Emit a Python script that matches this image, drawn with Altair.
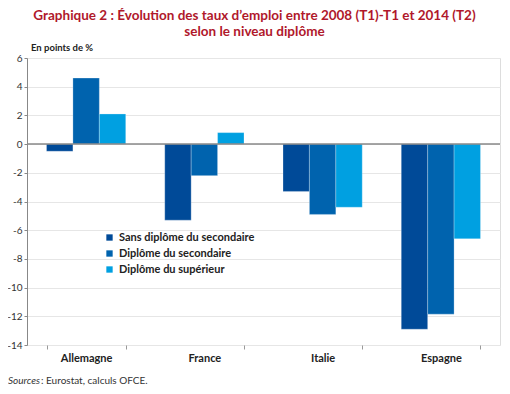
import altair as alt
import pandas as pd

pays = ["Allemagne", "France", "Italie", "Espagne"]
niveaux = ["Sans diplôme du secondaire", "Diplôme du secondaire", "Diplôme du supérieur"]
sans_diplome = [-0.5, -5.3, -3.3, -12.9]
diplome_secondaire = [4.6, -2.2, -4.9, -11.85]
diplome_superieur = [2.1, 0.8, -4.4, -6.6]
couleurs = ["#004a98", "#0063ae", "#00a0e1"]
y_domaine = [-14, 6]

titre = ["Graphique 2 : Évolution des taux d’emploi entre 2008 (T1)-T1 et 2014 (T2)",
         "selon le niveau diplôme"]
unite = "En points de %"
source_it = "Sources"
source_txt = " : Eurostat, calculs OFCE."

rows = []
for i, p in enumerate(pays):
    for n, vals in zip(niveaux, [sans_diplome, diplome_secondaire, diplome_superieur]):
        rows.append({"pays": p, "niveau": n, "valeur": vals[i]})
df = pd.DataFrame(rows)

W, H = 473, 287
FONT = "Lato"

bars = alt.Chart(df).mark_bar(stroke="#ffffff", strokeOpacity=0.25, strokeWidth=1).encode(
    x=alt.X("pays:N", sort=pays,
            scale=alt.Scale(paddingInner=0.33, paddingOuter=0.165),
            axis=alt.Axis(title=None, labelAngle=0, labelFont=FONT, labelFontWeight="bold",
                          labelFontSize=11, labelColor="#222", labelPadding=3, domain=False,
                          tickBand="extent", ticks=True, tickSize=4, tickColor="#999",
                          grid=False)),
    xOffset=alt.XOffset("niveau:N", sort=niveaux,
                        scale=alt.Scale(paddingInner=0, paddingOuter=0)),
    y=alt.Y("valeur:Q", scale=alt.Scale(domain=y_domaine, nice=False, zero=False),
            axis=alt.Axis(tickCount=10, title=None, labelExpr="datum.value + ''",
                          labelFont=FONT, labelFontSize=10, labelColor="#333",
                          labelPadding=2, tickSize=3, tickColor="#888",
                          labelOverlap=False, labelSeparation=0,
                          domainColor="#888", gridColor="#e6e6e6")),
    color=alt.Color("niveau:N", sort=niveaux,
                    scale=alt.Scale(domain=niveaux, range=couleurs),
                    legend=alt.Legend(orient="none", legendX=77, legendY=174, title=None,
                                      symbolType="square", symbolSize=40,
                                      symbolStrokeWidth=0, labelFont=FONT,
                                      labelFontWeight="bold", labelFontSize=11,
                                      labelColor="#222", rowPadding=4, labelOffset=4)),
)

zero = alt.Chart(pd.DataFrame({"v": [0]})).mark_rule(color="#888", strokeWidth=1.5).encode(y="v:Q")

unite_txt = alt.Chart(pd.DataFrame({"t": [unite]})).mark_text(
    align="left", baseline="middle", font=FONT, fontWeight="bold", fontSize=9.5, color="#222"
).encode(text="t:N", x=alt.value(4), y=alt.value(-10))

src1 = alt.Chart(pd.DataFrame({"t": [source_it]})).mark_text(
    align="left", baseline="middle", font=FONT, fontStyle="italic", fontSize=10, color="#333"
).encode(text="t:N", x=alt.value(-19), y=alt.value(323))

src2 = alt.Chart(pd.DataFrame({"t": [source_txt]})).mark_text(
    align="left", baseline="middle", font=FONT, fontSize=10, color="#333"
).encode(text="t:N", x=alt.value(14), y=alt.value(323))

chart = alt.layer(bars, zero, unite_txt, src1, src2).properties(
    width=W, height=H,
    autosize=alt.AutoSizeParams(type="none"),
    padding={"left": 19, "top": 50, "right": 2, "bottom": 41},
    title=alt.Title(titre, color="#b0182b", font=FONT, fontSize=13.5, fontWeight="bold",
                    anchor="middle", dx=-9, offset=5, lineHeight=16),
).configure_view(fill="#f4f4f4", stroke=None).configure(background="white")

chart.save("out.html", embed_options={"renderer": "svg", "actions": False})
